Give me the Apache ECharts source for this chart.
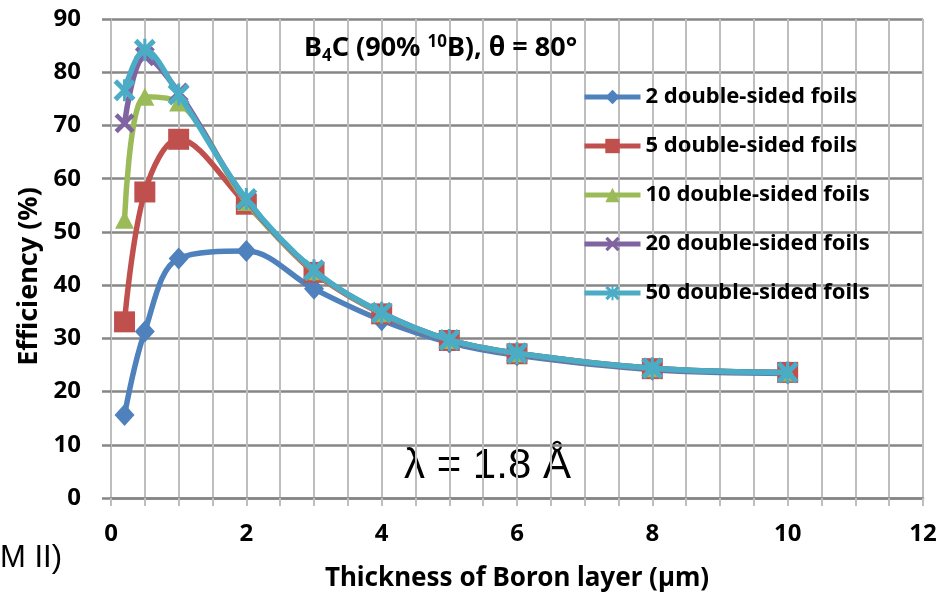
<!DOCTYPE html>
<html>
<head>
<meta charset="utf-8">
<script src="https://cdn.jsdelivr.net/npm/echarts@6/dist/echarts.min.js"></script>
<style>
  html, body { margin: 0; padding: 0; background: #fff; }
  #chart { width: 941px; height: 599px; }
</style>
</head>
<body>
<div id="chart"></div>
<script>
// boron layer thickness (um)
const thickness = [0.2, 0.5, 1, 2, 3, 4, 5, 6, 8, 10];

// efficiency (%) per number of double-sided foils
const foils2 = [15.6, 31.3, 45.0, 46.4, 39.3, 33.4, 29.2, 26.8, 24.1, 23.4];
const foils5 = [33.1, 57.5, 67.4, 55.2, 42.4, 34.6, 29.6, 27.1, 24.3, 23.6];
const foils10 = [52.3, 75.4, 74.3, 55.6, 42.6, 34.7, 29.7, 27.2, 24.4, 23.6];
const foils20 = [70.4, 83.0, 76.2, 56.0, 42.7, 34.8, 29.7, 27.2, 24.4, 23.6];
const foils50 = [76.6, 84.2, 75.8, 56.2, 42.8, 34.8, 29.7, 27.2, 24.4, 23.6];

const seriesNames = [
  "2 double-sided foils",
  "5 double-sided foils",
  "10 double-sided foils",
  "20 double-sided foils",
  "50 double-sided foils",
];
const seriesColors = ["#4F81BD", "#C0504D", "#9BBB59", "#8064A2", "#4BACC6"];

// marker shapes (excel style)
const crossPath = "path://M0,1.6 L1.6,0 L5,3.4 L8.4,0 L10,1.6 L6.6,5 L10,8.4 L8.4,10 L5,6.6 L1.6,10 L0,8.4 L3.4,5 Z";
const starPath = crossPath + " M4.3,0 L5.7,0 L5.7,10 L4.3,10 Z";
const symbols = ["diamond", "rect", "triangle", crossPath, starPath];
const symbolSizes = [[20, 22], 21, [19, 18], 20, 22];

const allValues = [foils2, foils5, foils10, foils20, foils50];

const boldFont = "Noto Sans";

const chart = echarts.init(document.getElementById("chart"));

const option = {
  animation: false,
  backgroundColor: "#fff",
  grid: { left: 111, right: 18, top: 19, bottom: 101 },
  title: {
    left: 299,
    top: 26,
    text: "B{sub|4}C (90% {sup|10}B), θ = 80°",
    textStyle: {
      fontFamily: boldFont,
      fontWeight: "bold",
      fontSize: 27,
      color: "#000",
      rich: {
        sub: { fontFamily: boldFont, fontWeight: "bold", fontSize: 17, padding: [17, 0, 0, 0], color: "#000" },
        sup: { fontFamily: boldFont, fontWeight: "bold", fontSize: 17, padding: [0, 0, 12, 0], color: "#000" },
      },
    },
  },
  legend: {
    orient: "vertical",
    left: 577,
    top: 81,
    itemWidth: 56,
    itemHeight: 18,
    itemGap: 27,
    data: seriesNames,
    lineStyle: { width: 5 },
    textStyle: { fontFamily: boldFont, fontWeight: "bold", fontSize: 22, color: "#000" },
  },
  xAxis: {
    type: "value",
    min: 0,
    max: 12,
    interval: 0.5,
    name: "Thickness of Boron layer (µm)",
    nameLocation: "middle",
    nameGap: 68,
    nameTextStyle: { fontFamily: boldFont, fontWeight: "bold", fontSize: 26, color: "#000" },
    axisLine: { show: true, lineStyle: { color: "#868686", width: 2.5 } },
    axisTick: { show: true, length: 8, lineStyle: { color: "#BEBEBE", width: 2 } },
    axisLabel: {
      margin: 24,
      fontFamily: boldFont,
      fontWeight: "bold",
      fontSize: 24,
      color: "#000",
      formatter: (v) => (v % 2 === 0 ? String(v) : ""),
    },
    splitLine: { show: true, lineStyle: { color: "#BEBEBE", width: 2 } },
  },
  yAxis: {
    type: "value",
    min: 0,
    max: 90,
    interval: 10,
    name: "Efficiency (%)",
    nameLocation: "middle",
    nameGap: 66,
    nameTextStyle: { fontFamily: boldFont, fontWeight: "bold", fontSize: 27, color: "#000", padding: [0, 36, 0, 0] },
    axisLine: { show: true, lineStyle: { color: "#BEBEBE", width: 2 } },
    axisTick: { show: true, length: 9, lineStyle: { color: "#868686", width: 2.5 } },
    axisLabel: { margin: 30, fontFamily: boldFont, fontWeight: "bold", fontSize: 24, color: "#000" },
    splitLine: { show: true, lineStyle: { color: "#868686", width: 2.5 } },
  },
  graphic: [
    {
      type: "text",
      left: 404,
      top: 445,
      style: { text: "λ = 1.8 Å", fontFamily: "Liberation Sans", fontSize: 42, fill: "#000" },
    },
    {
      type: "text",
      left: 0,
      top: 543,
      style: { text: "M II)", fontFamily: "Liberation Sans", fontSize: 31, fill: "#000" },
    },
  ],
  series: seriesNames.map((name, i) => ({
    name: name,
    type: "line",
    smooth: 0.35,
    data: thickness.map((t, j) => [t, allValues[i][j]]),
    symbol: symbols[i],
    symbolSize: symbolSizes[i],
    lineStyle: { color: seriesColors[i], width: 5.5 },
    itemStyle: { color: seriesColors[i] },
    z: 2 + i,
  })),
};

chart.setOption(option);
</script>
</body>
</html>
